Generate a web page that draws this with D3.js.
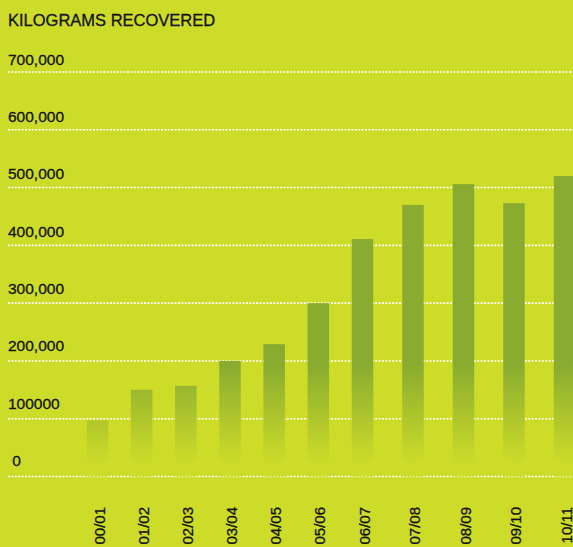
<!DOCTYPE html>
<html>
<head>
<meta charset="utf-8">
<script src="https://cdn.jsdelivr.net/npm/d3@7"></script>
<style>
  html, body { margin: 0; padding: 0; background: #cddc29; }
  svg { display: block; }
  text { font-family: "Liberation Sans", Arial, Helvetica, sans-serif; fill: #12120e; stroke: #12120e; stroke-width: 0.3px; }
</style>
</head>
<body>
<svg id="chart" width="573" height="547"></svg>
<script>
const title = "KILOGRAMS RECOVERED";
const categories = ["00/01","01/02","02/03","03/04","04/05","05/06","06/07","07/08","08/09","09/10","10/11"];
const values = [97000, 150000, 157000, 200000, 229000, 300000, 411000, 470000, 506000, 473000, 520000];
const tickValues = [0, 100000, 200000, 300000, 400000, 500000, 600000, 700000];
const tickLabels = ["\u00a00", "100000", "200,000", "300,000", "400,000", "500,000", "600,000", "700,000"];

const W = 573, H = 547;
const bg = "#cddc29", barColor = "#89ac30";
const svg = d3.select("#chart");

svg.append("rect").attr("width", W).attr("height", H).attr("fill", bg);

const y = d3.scaleLinear().domain([0, 700000]).range([476.5, 72]);
const yLabel = d3.scaleLinear().domain([0, 700000]).range([466, 64.5]);
// bar centres by category index (spacing widens after 06/07 in the original)
const xIdx = d3.scaleLinear().domain([0, 6, 10]).range([97.5, 362.5, 564.5]);
const barW = 21.5;

const defs = svg.append("defs");
const grad = defs.append("linearGradient")
  .attr("id", "barGrad")
  .attr("gradientUnits", "userSpaceOnUse")
  .attr("x1", 0).attr("x2", 0)
  .attr("y1", 365).attr("y2", 463);
grad.append("stop").attr("offset", "0%").attr("stop-color", barColor);
grad.append("stop").attr("offset", "100%").attr("stop-color", bg);

// title
svg.append("text").attr("x", 8).attr("y", 25.5)
  .attr("font-size", 16.5).text(title);

// gridlines
svg.append("g").selectAll("line").data(tickValues).join("line")
  .attr("x1", 8).attr("x2", W)
  .attr("y1", d => y(d)).attr("y2", d => y(d))
  .attr("stroke", "#ffffff").attr("stroke-width", 1.6)
  .attr("stroke-dasharray", "2,1.4");

// y labels
svg.append("g").selectAll("text").data(tickValues).join("text")
  .attr("x", 8).attr("y", d => yLabel(d))
  .attr("font-size", 15.5)
  .text((d, i) => tickLabels[i]);

// bars
svg.append("g").selectAll("rect").data(values).join("rect")
  .attr("x", (d, i) => xIdx(i) - barW / 2)
  .attr("width", barW)
  .attr("y", d => y(d))
  .attr("height", d => y(0) - y(d))
  .attr("fill", "url(#barGrad)");

// x labels
svg.append("g").selectAll("text").data(categories).join("text")
  .attr("transform", (d, i) => `translate(${xIdx(i) + 7},507) rotate(-90)`)
  .attr("text-anchor", "end")
  .attr("font-size", 15)
  .text(d => d);
</script>
</body>
</html>
